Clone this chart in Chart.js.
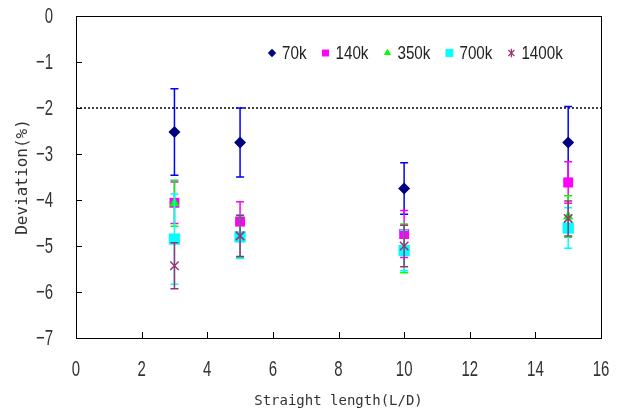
<!DOCTYPE html>
<html>
<head>
<meta charset="utf-8">
<script src="https://cdn.jsdelivr.net/npm/chart.js@4.4.1/dist/chart.umd.min.js"></script>
<style>
  body { margin: 0; background: #fff; }
  canvas { display: block; }
</style>
</head>
<body>
<canvas id="chart0" width="626" height="410"></canvas>
<script>
// straight length positions (L/D)
var lengths = [3, 5, 10, 15];

var seriesNames = ['70k', '140k', '350k', '700k', '1400k'];

// mean deviation (%) per series, and the +/- spread of each point
var dev70k   = [-2.52, -2.75, -3.75, -2.75];
var err70k   = [0.94, 0.75, 0.56, 0.78];
var dev140k  = [-4.06, -4.47, -4.74, -3.62];
var err140k  = [0.45, 0.43, 0.51, 0.45];
var dev350k  = [-4.07, -4.80, -5.05, -4.36];
var err350k  = [0.50, 0.45, 0.53, 0.45];
var dev700k  = [-4.85, -4.80, -5.10, -4.61];
var err700k  = [0.98, 0.47, 0.44, 0.44];
var dev1400k = [-5.43, -4.78, -5.00, -4.40];
var err1400k = [0.50, 0.45, 0.45, 0.38];

var limitLine = -2;
var xTicks = [0, 16, 2];   // min, max, step
var yTicks = [-7, 0, 1];

var sansFont = "'Liberation Sans', Arial, sans-serif";
var monoFont = "'DejaVu Sans Mono', 'Liberation Mono', monospace";

var ctx = document.getElementById('chart0').getContext('2d');

function points(values) {
    return values.map(function (v, i) { return { x: lengths[i], y: v }; });
}

// text squeezed horizontally, the labels use a tall narrow face
function drawNarrow(c, text, x, y, align, sx) {
    c.save();
    c.translate(x, y);
    c.scale(sx, 1);
    c.textAlign = align;
    c.fillText(text, 0, 0);
    c.restore();
}

function makeSeries(idx, values, errors, style, fill, barColor, radius) {
    return {
        label: seriesNames[idx],
        data: points(values),
        errors: errors,
        barColor: barColor,
        pointStyle: style,
        pointRadius: radius,
        pointHoverRadius: radius,
        backgroundColor: fill,
        borderColor: fill,
        pointBorderWidth: style === 'crossRot' ? 1.5 : 0,
        showLine: false,
        order: 4 - idx      // later series sit on top
    };
}

var datasets = [
    makeSeries(0, dev70k, err70k, 'rectRot', '#000080', '#0000ff', 6),
    makeSeries(1, dev140k, err140k, 'rect', '#ff00ff', '#ff00ff', 7),
    makeSeries(2, dev350k, err350k, 'triangle', '#00ff00', '#00ff00', 6),
    makeSeries(3, dev700k, err700k, 'rect', '#00ffff', '#00ffff', 8),
    makeSeries(4, dev1400k, err1400k, 'crossRot', '#993377', '#993377', 6),
    {
        label: 'limit',
        type: 'line',
        data: [{ x: xTicks[0], y: limitLine }, { x: xTicks[1], y: limitLine }],
        borderColor: '#000',
        borderWidth: 1.5,
        borderDash: [2, 2],
        pointRadius: 0,
        order: 10
    }
];

// vertical error bars, drawn right before each series' markers
var errorBars = {
    id: 'errorBars',
    beforeDatasetDraw: function (chart, args) {
        var ds = chart.data.datasets[args.index];
        if (!ds.errors) return;
        var xs = chart.scales.x, ys = chart.scales.y;
        var c = chart.ctx;
        c.save();
        c.strokeStyle = ds.barColor;
        c.lineWidth = 1.5;
        ds.data.forEach(function (p, i) {
            var x = xs.getPixelForValue(p.x);
            var top = ys.getPixelForValue(p.y + ds.errors[i]);
            var bot = ys.getPixelForValue(p.y - ds.errors[i]);
            c.beginPath();
            c.moveTo(x, top); c.lineTo(x, bot);
            c.moveTo(x - 4, top); c.lineTo(x + 4, top);
            c.moveTo(x - 4, bot); c.lineTo(x + 4, bot);
            c.stroke();
        });
        c.restore();
    }
};

// box around the plot, inward tick marks and the tick labels
var frame = {
    id: 'frame',
    afterDatasetsDraw: function (chart) {
        var a = chart.chartArea, c = chart.ctx;
        var xs = chart.scales.x, ys = chart.scales.y;
        c.save();
        c.strokeStyle = '#000';
        c.lineWidth = 1;
        c.strokeRect(Math.round(a.left) + 0.5, Math.round(a.top) + 0.5,
                     Math.round(a.right - a.left), Math.round(a.bottom - a.top));
        c.beginPath();
        ys.ticks.forEach(function (t) {
            var y = Math.round(ys.getPixelForValue(t.value)) + 0.5;
            c.moveTo(a.left, y); c.lineTo(a.left + 6, y);
        });
        xs.ticks.forEach(function (t) {
            var x = Math.round(xs.getPixelForValue(t.value)) + 0.5;
            c.moveTo(x, a.bottom); c.lineTo(x, a.bottom - 6);
        });
        c.stroke();

        c.fillStyle = '#333';
        c.font = '22px ' + sansFont;
        c.textBaseline = 'middle';
        ys.ticks.forEach(function (t) {
            var txt = String(t.value).replace('-', '\u2212');
            drawNarrow(c, txt, a.left - 23, ys.getPixelForValue(t.value) + 1, 'right', 0.68);
        });
        xs.ticks.forEach(function (t) {
            drawNarrow(c, String(t.value), xs.getPixelForValue(t.value), a.bottom + 32, 'center', 0.68);
        });
        c.restore();
    }
};

// legend row inside the plot, top right
var legendRow = {
    id: 'legendRow',
    afterDraw: function (chart) {
        var c = chart.ctx;
        var x = 272, y = 53, sx = 0.8;
        c.save();
        c.font = '19px ' + sansFont;
        c.textBaseline = 'middle';
        chart.data.datasets.forEach(function (ds) {
            if (!ds.errors) return;
            var r = ds.pointRadius * 0.7;
            c.fillStyle = ds.backgroundColor;
            c.strokeStyle = ds.borderColor;
            c.lineWidth = 1.2;
            Chart.helpers.drawPoint(c, { pointStyle: ds.pointStyle, radius: r, rotation: 0, borderWidth: ds.pointBorderWidth }, x, y);
            if (ds.pointStyle === 'crossRot') {
                c.beginPath();
                c.moveTo(x, y - r); c.lineTo(x, y + r);
                c.stroke();
            }
            c.fillStyle = '#222';
            drawNarrow(c, ds.label, x + 10, y + 1, 'left', sx);
            x += 10 + c.measureText(ds.label).width * sx + 19;
        });
        c.restore();
    }
};

var chart = new Chart(ctx, {
    type: 'scatter',
    data: { datasets: datasets },
    options: {
        responsive: false,
        animation: false,
        layout: { padding: { top: 16, right: 25, left: 0, bottom: 0 } },
        plugins: {
            legend: { display: false },
            tooltip: { enabled: false }
        },
        scales: {
            x: {
                type: 'linear',
                min: xTicks[0], max: xTicks[1],
                grid: { display: false },
                border: { display: false },
                ticks: { stepSize: xTicks[2], display: false },
                title: {
                    display: true,
                    text: 'Straight length(L/D)',
                    color: '#333',
                    font: { family: monoFont, size: 14 },
                    padding: { top: 9, bottom: 0 }
                },
                afterFit: function (scale) { scale.height = 72; }
            },
            y: {
                type: 'linear',
                min: yTicks[0], max: yTicks[1],
                grid: { display: false },
                border: { display: false },
                ticks: { stepSize: yTicks[2], display: false },
                title: {
                    display: true,
                    text: 'Deviation(%)',
                    color: '#333',
                    font: { family: monoFont, size: 16 },
                    padding: { top: 13, bottom: 0 }
                },
                afterFit: function (scale) { scale.width = 76; }
            }
        }
    },
    plugins: [errorBars, frame, legendRow]
});
</script>
</body>
</html>
